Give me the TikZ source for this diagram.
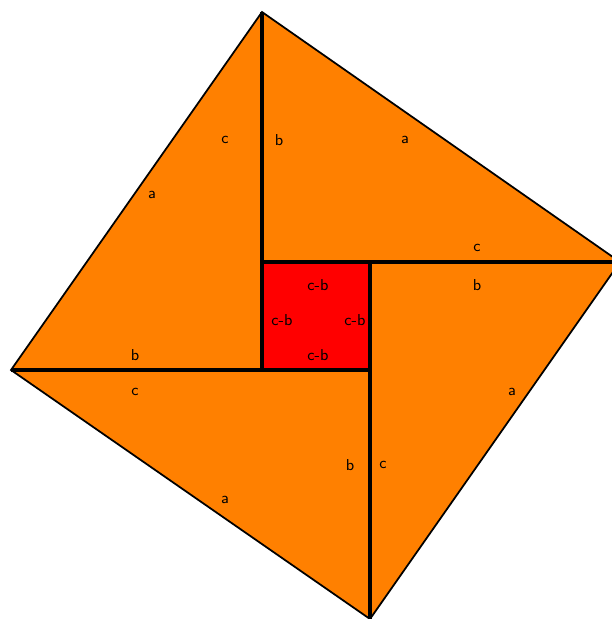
\documentclass[tikz,border=0pt]{standalone}
\usetikzlibrary{calc}

\definecolor{piece}{RGB}{255,128,0}
\definecolor{hole}{RGB}{255,0,0}

\begin{document}
\begin{tikzpicture}[x=0.02cm,y=-0.02cm,
      every node/.style={inner sep=1pt,font=\fontsize{9}{10}\sffamily},
      edge/.style={line width=1.8pt},
      rim/.style={line width=1pt}]
      \useasboundingbox (0,0) rectangle (612,619);
      % inner square and outer corners
      \coordinate (p1) at (262,262);
      \coordinate (p2) at (370,262);
      \coordinate (p3) at (370,370);
      \coordinate (p4) at (262,370);
      \coordinate (T) at (262,12);
      \coordinate (R) at (620,262);
      \coordinate (B) at (370,619);
      \coordinate (L) at (11,370);
      \fill[piece](T)--(R)--(B)--(L)--cycle;
      \fill[hole](p1)rectangle(p3);
      \draw[rim](T)--(R)--(B)--(L)--cycle;
      \draw[edge](T)--(p4);
      \draw[edge](L)--(p3);
      \draw[edge](R)--(p1);
      \draw[edge](B)--(p2);
      % labels
      \node (c1) at (225,140) {c};
      \node (b1) at (279,140) {b};
      \node (a1) at (405,140) {a};
      \node (a2) at (152,195) {a};
      \node (c2) at (477,248) {c};
      \node (b2) at (477,285) {b};
      \node (d1) at (318,285) {c-b};
      \node (d2) at (282,320) {c-b};
      \node (d3) at (355,320) {c-b};
      \node (d4) at (318,355) {c-b};
      \node (b3) at (135,355) {b};
      \node (c3) at (135,392) {c};
      \node (a3) at (512,392) {a};
      \node (b4) at (350,465) {b};
      \node (c4) at (383,465) {c};
      \node (a4) at (225,500) {a};
    \end{tikzpicture}
\end{document}
